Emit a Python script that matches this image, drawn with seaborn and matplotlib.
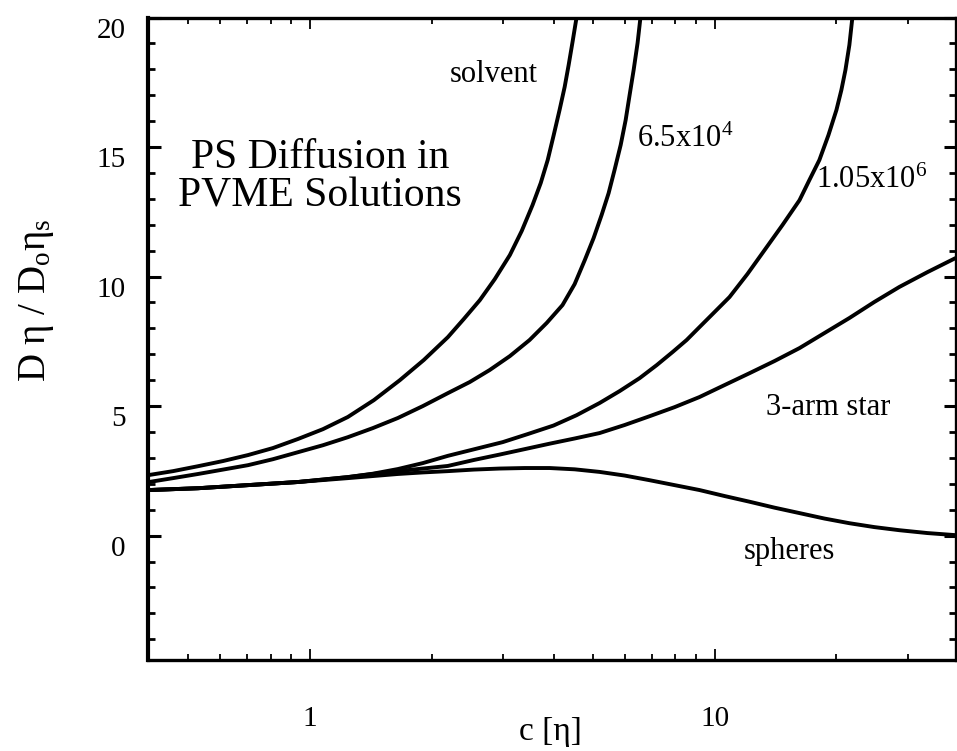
import numpy as np
import pandas as pd
import matplotlib
matplotlib.use('Agg')
import matplotlib.pyplot as plt
import seaborn as sns
from matplotlib.ticker import LogLocator, NullFormatter, FixedLocator

# Data (c[eta] on log axis, D eta / D0 eta_s)
c_solvent = [0.40, 0.459, 0.529, 0.610, 0.703, 0.810, 0.934, 1.077, 1.241, 1.439, 1.668, 1.912, 2.192,
             2.400, 2.63, 2.863, 3.12, 3.338, 3.55, 3.719, 3.87, 4.004, 4.14, 4.262, 4.36, 4.461, 4.56]
y_solvent = [2.34, 2.49, 2.68, 2.88, 3.11, 3.38, 3.73, 4.11, 4.58, 5.23, 6.00, 6.78, 7.66,
             8.36, 9.09, 9.90, 10.83, 11.76, 12.76, 13.61, 14.50, 15.46, 16.43, 17.32, 18.17, 19.09, 20.0]

c_65k = [0.40, 0.459, 0.529, 0.610, 0.703, 0.810, 0.934, 1.077, 1.241, 1.430, 1.649, 1.901, 2.192,
         2.484, 2.78, 3.12, 3.49, 3.848, 4.21, 4.511, 4.78, 5.026, 5.26, 5.473, 5.66, 5.862, 6.03,
         6.168, 6.31, 6.454, 6.56]
y_65k = [2.07, 2.22, 2.38, 2.55, 2.72, 2.95, 3.22, 3.49, 3.80, 4.15, 4.54, 5.00, 5.50,
         5.93, 6.39, 6.93, 7.55, 8.21, 8.90, 9.71, 10.64, 11.49, 12.38, 13.22, 14.11, 15.08, 16.04,
         17.01, 17.97, 19.02, 20.0]

c_105m = [0.40, 0.529, 0.703, 0.934, 1.241, 1.430, 1.649, 1.901, 2.192, 2.555, 2.996, 3.453, 4.00,
          4.562, 5.20, 5.828, 6.53, 7.193, 7.88, 8.53, 9.18, 10.0, 10.89, 12.06, 13.29, 14.72, 16.22,
          17.16, 18.16, 19.12, 20.01, 20.58, 21.06, 21.54, 21.91]
y_105m = [1.76, 1.83, 1.95, 2.07, 2.26, 2.39, 2.57, 2.80, 3.08, 3.34, 3.61, 3.92, 4.25,
          4.65, 5.12, 5.58, 6.08, 6.58, 7.09, 7.55, 8.05, 8.63, 9.21, 10.10, 11.02, 11.99, 12.95,
          13.73, 14.50, 15.46, 16.43, 17.20, 17.97, 18.94, 20.0]

c_star = [0.40, 0.529, 0.703, 0.934, 1.241, 1.430, 1.649, 1.901, 2.192, 2.541, 2.945, 3.396, 3.913,
          4.511, 5.20, 5.995, 6.91, 7.966, 9.18, 10.58, 12.2, 14.07, 16.22, 18.69, 21.54, 24.83,
          28.63, 33.57, 39.36]
y_star = [1.76, 1.83, 1.95, 2.07, 2.26, 2.38, 2.49, 2.59, 2.69, 2.92, 3.13, 3.34, 3.55,
          3.75, 3.96, 4.27, 4.61, 4.96, 5.35, 5.81, 6.27, 6.74, 7.24, 7.82, 8.40, 9.02,
          9.60, 10.17, 10.71]

c_sph = [0.40, 0.529, 0.703, 0.934, 1.241, 1.430, 1.649, 1.901, 2.192, 2.541, 2.945, 3.396, 3.913,
         4.511, 5.20, 5.995, 6.91, 7.966, 9.18, 10.58, 12.2, 14.07, 16.22, 18.69, 21.54, 24.83,
         28.63, 33.57, 39.36]
y_sph = [1.76, 1.83, 1.95, 2.07, 2.22, 2.30, 2.38, 2.44, 2.49, 2.55, 2.59, 2.61, 2.61,
         2.56, 2.46, 2.32, 2.14, 1.95, 1.76, 1.53, 1.31, 1.08, 0.87, 0.66, 0.48, 0.33,
         0.21, 0.10, 0.02]

curves = [(c_solvent, y_solvent), (c_65k, y_65k), (c_105m, y_105m), (c_star, y_star), (c_sph, y_sph)]

sns.set_theme(style='white')
plt.rcParams['font.family'] = ['Liberation Serif', 'DejaVu Serif']
plt.rcParams['mathtext.fontset'] = 'custom'
plt.rcParams['mathtext.rm'] = 'Liberation Serif'
plt.rcParams['mathtext.it'] = 'Liberation Serif:italic'
plt.rcParams['text.color'] = 'black'
plt.rcParams['axes.labelcolor'] = 'black'
plt.rcParams['xtick.color'] = 'black'
plt.rcParams['ytick.color'] = 'black'

fig = plt.figure(figsize=(9.57, 7.51), dpi=100)
ax = fig.add_axes([148 / 957, 91 / 751, 807.5 / 957, 642.5 / 751])

for cx, cy in curves:
    df = pd.DataFrame({'c': cx, 'D': cy})
    sns.lineplot(data=df, x='c', y='D', ax=ax, color='black', linewidth=2.8,
                 estimator=None, sort=True)

ax.set_xscale('log')
ax.set_xlim(0.398, 39.4)
ax.set_ylim(-4.8, 20)

ax.xaxis.set_major_locator(FixedLocator([1, 10]))
ax.set_xticklabels(['1', '10'])
ax.xaxis.set_minor_locator(LogLocator(base=10, subs=np.arange(2, 10)))
ax.xaxis.set_minor_formatter(NullFormatter())

ax.yaxis.set_major_locator(FixedLocator([0, 5, 10, 15, 20]))
ax.set_yticklabels(['0', '5', '10', '15', '20'])
ax.yaxis.set_minor_locator(FixedLocator(np.arange(-4, 20, 1)))

ax.tick_params(which='both', direction='in', top=True, right=True, bottom=True, left=True)
ax.tick_params(axis='x', which='major', length=8, width=1.3, pad=33, labelsize=21)
ax.tick_params(axis='x', which='minor', length=4.5, width=1.3)
ax.tick_params(axis='y', which='major', length=9, width=2.2, pad=16, labelsize=21)
ax.tick_params(axis='y', which='minor', length=5, width=2.0)
for lab in ax.get_yticklabels():
    lab.set_va('top')

for side in ['top', 'bottom', 'right']:
    ax.spines[side].set_linewidth(2.4)
    ax.spines[side].set_color('black')
ax.spines['left'].set_linewidth(3.0)
ax.spines['left'].set_color('black')

ax.set_xlabel('')
ax.set_ylabel('')
fig.text(550 / 957, 1 - 747 / 751, 'c [η]', fontsize=24, ha='center', va='bottom')
fig.text(36 / 957, 1 - 300 / 751, 'D η / D$_\\mathregular{o}$η$_\\mathregular{s}$', fontsize=28,
         rotation=90, ha='center', va='center')

ax.text(1.06, 13.85, 'PS Diffusion in\nPVME Solutions', fontsize=30, ha='center', va='center',
        linespacing=1.0)
ax.text(2.85, 17.8, 'solvent', fontsize=22, ha='center', va='center')
ax.text(8.45, 15.3, '6.5x10$^\\mathregular{4}$', fontsize=22, ha='center', va='center')
ax.text(24.4, 13.7, '1.05x10$^\\mathregular{6}$', fontsize=22, ha='center', va='center')
ax.text(19.1, 4.96, '3-arm star', fontsize=22, ha='center', va='center')
ax.text(15.3, -0.6, 'spheres', fontsize=22, ha='center', va='center')

fig.savefig('out.png', dpi=100, facecolor='white')
plt.close(fig)
